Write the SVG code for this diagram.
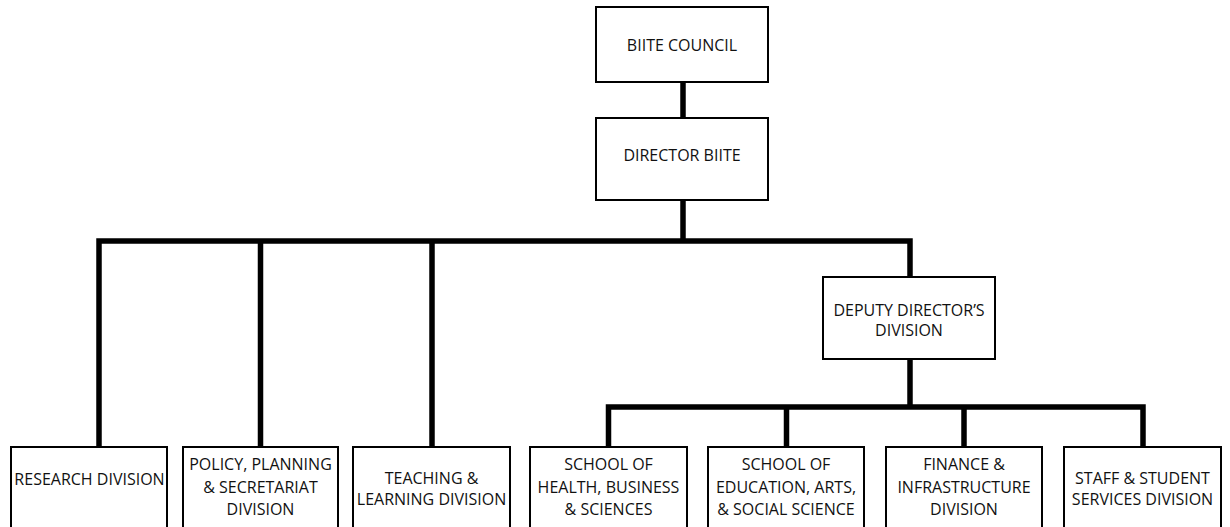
<svg xmlns="http://www.w3.org/2000/svg" width="1230" height="527" viewBox="0 0 1230 527">
<style>
.box{fill:#fff;stroke:#000;stroke-width:2}
.t{font-family:"Open Sans","DejaVu Sans",sans-serif;font-size:16px;fill:#111;text-anchor:middle}
.c{fill:none;stroke:#000;stroke-width:5.5;stroke-linecap:butt;stroke-linejoin:miter}
</style>
<rect width="1230" height="527" fill="#fff"/>
<g id="connectors">
<path class="c" d="M683,82 V118"/>
<path class="c" d="M683,200 V241"/>
<path class="c" d="M99,447 V241 H910 V277"/>
<path class="c" d="M260.5,241 V447"/>
<path class="c" d="M432,241 V447"/>
<path class="c" d="M910,359 V407"/>
<path class="c" d="M608.5,447 V407 H1143 V447"/>
<path class="c" d="M786.5,407 V447"/>
<path class="c" d="M964,407 V447"/>
</g>
<g id="biite-council">
<rect class="box" x="596" y="7" width="172" height="75"/>
<text class="t" x="682" y="51">BIITE COUNCIL</text>
</g>
<g id="director-biite">
<rect class="box" x="596" y="118" width="172" height="82"/>
<text class="t" x="682" y="161">DIRECTOR BIITE</text>
</g>
<g id="deputy-director">
<rect class="box" x="823" y="277" width="172" height="82"/>
<text class="t" x="909" y="316">DEPUTY DIRECTOR’S</text>
<text class="t" x="909" y="336">DIVISION</text>
</g>
<g id="research">
<rect class="box" x="11" y="447" width="156" height="95"/>
<text class="t" x="89.5" y="485">RESEARCH DIVISION</text>
</g>
<g id="policy">
<rect class="box" x="183" y="447" width="155" height="95"/>
<text class="t" x="260.5" y="470">POLICY, PLANNING</text>
<text class="t" x="260.5" y="493">&amp; SECRETARIAT</text>
<text class="t" x="260.5" y="515">DIVISION</text>
</g>
<g id="teaching">
<rect class="box" x="353" y="447" width="157" height="95"/>
<text class="t" x="431.5" y="484">TEACHING &amp;</text>
<text class="t" x="431.5" y="505">LEARNING DIVISION</text>
</g>
<g id="school-hbs">
<rect class="box" x="530" y="447" width="157" height="95"/>
<text class="t" x="608.5" y="470">SCHOOL OF</text>
<text class="t" x="608.5" y="493">HEALTH, BUSINESS</text>
<text class="t" x="608.5" y="515">&amp; SCIENCES</text>
</g>
<g id="school-eas">
<rect class="box" x="708" y="447" width="156" height="95"/>
<text class="t" x="786" y="470">SCHOOL OF</text>
<text class="t" x="786" y="493">EDUCATION, ARTS,</text>
<text class="t" x="786" y="515">&amp; SOCIAL SCIENCE</text>
</g>
<g id="finance">
<rect class="box" x="886" y="447" width="156" height="95"/>
<text class="t" x="964" y="470">FINANCE &amp;</text>
<text class="t" x="964" y="493">INFRASTRUCTURE</text>
<text class="t" x="964" y="515">DIVISION</text>
</g>
<g id="staff-student">
<rect class="box" x="1064" y="447" width="157" height="95"/>
<text class="t" x="1142.5" y="484">STAFF &amp; STUDENT</text>
<text class="t" x="1142.5" y="505">SERVICES DIVISION</text>
</g>
</svg>
